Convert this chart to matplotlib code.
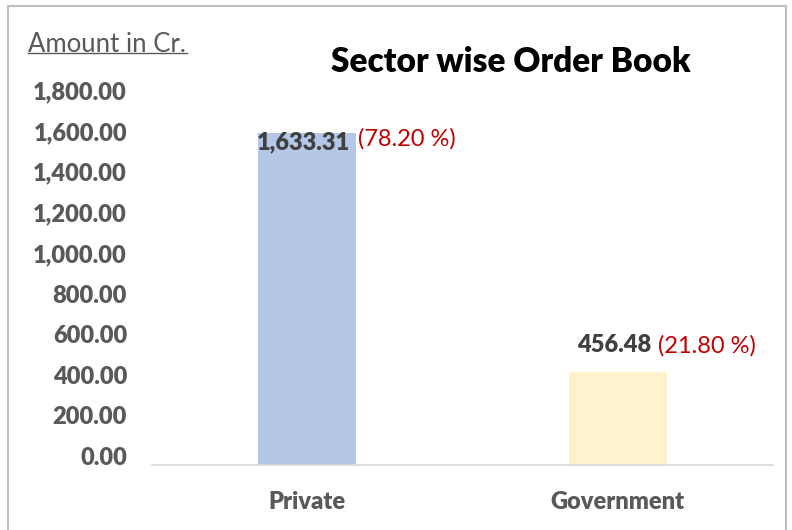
import matplotlib
matplotlib.use("Agg")
import matplotlib.pyplot as plt
import matplotlib.transforms as mtransforms
from matplotlib.patches import Rectangle
from matplotlib.lines import Line2D

categories = ["Private", "Government"]
values = [1633.31, 456.48]
shares = ["(78.20 %)", "(21.80 %)"]
value_labels = ["1,633.31", "456.48"]
bar_colors = ["#B4C7E7", "#FFF2CC"]
yticks = [0, 200, 400, 600, 800, 1000, 1200, 1400, 1600, 1800]

plt.rcParams['font.family'] = ['Lato', 'DejaVu Sans']

W, H = 792, 530
fig = plt.figure(figsize=(W/100, H/100), dpi=100)
PT = 72/100  # points per pixel
BW = "heavy"

x0, x1 = 152, 773
yb = 465
scale = 0.203  # px per unit
ytop_px = 80
ymax = (yb - ytop_px) / scale
ax = fig.add_axes([x0/W, 1 - yb/H, (x1-x0)/W, (yb-ytop_px)/H])
ax.set_xlim(-0.5, 1.5)
ax.set_ylim(0, ymax)

ax.bar(range(len(categories)), values, width=0.316, color=bar_colors, zorder=2)

for s in ["top", "right", "left"]:
    ax.spines[s].set_visible(False)
ax.spines["bottom"].set_color("#D9D9D9")
ax.spines["bottom"].set_linewidth(1.2)

FS = 17
ax.set_yticks(yticks)
ax.set_yticklabels([f"{v:,.2f}" for v in yticks])
ax.tick_params(axis="y", length=0, pad=25*PT, labelsize=FS, labelcolor="#595959")
for lab in ax.get_yticklabels():
    lab.set_fontweight(BW)
    lab.set_transform(lab.get_transform() + mtransforms.ScaledTranslation(0, 0.09, fig.dpi_scale_trans))

ax.set_xticks(range(len(categories)))
ax.set_xticklabels(categories)
ax.tick_params(axis="x", length=0, pad=26*PT, labelsize=FS, labelcolor="#595959")
for lab in ax.get_xticklabels():
    lab.set_fontweight(BW)

# data labels
ax.annotate(value_labels[0], xy=(0, values[0]), xytext=(43*PT, -9*PT), textcoords="offset points",
            ha="right", va="center", fontsize=FS, fontweight=BW, color="#404040")
ax.annotate(shares[0], xy=(0, values[0]), xytext=(51*PT, -5*PT), textcoords="offset points",
            ha="left", va="center", fontsize=FS, color="#C00000")
ax.annotate(value_labels[1], xy=(1, values[1]), xytext=(34*PT, 27*PT), textcoords="offset points",
            ha="right", va="center", fontsize=FS, fontweight=BW, color="#404040")
ax.annotate(shares[1], xy=(1, values[1]), xytext=(40*PT, 27*PT), textcoords="offset points",
            ha="left", va="center", fontsize=FS, color="#C00000")

# title & unit label
fig.text(511/W, 1 - 62/H, "Sector wise Order Book", ha="center", va="center",
         fontsize=24, fontweight=BW, color="black")
fig.text(28/W, 1 - 44/H, "Amount in Cr.", ha="left", va="center",
         fontsize=18.5, color="#595959")
fig.add_artist(Line2D([28/W, 187/W], [1 - 52.5/H, 1 - 52.5/H], color="#595959", lw=1.0))

# outer border
fig.add_artist(Rectangle((8/W, -0.02), (786-8)/W, 1.02 - 6/H, transform=fig.transFigure,
                         fill=False, edgecolor="#BFBFBF", lw=1.5))

fig.savefig("out.png", dpi=100)
